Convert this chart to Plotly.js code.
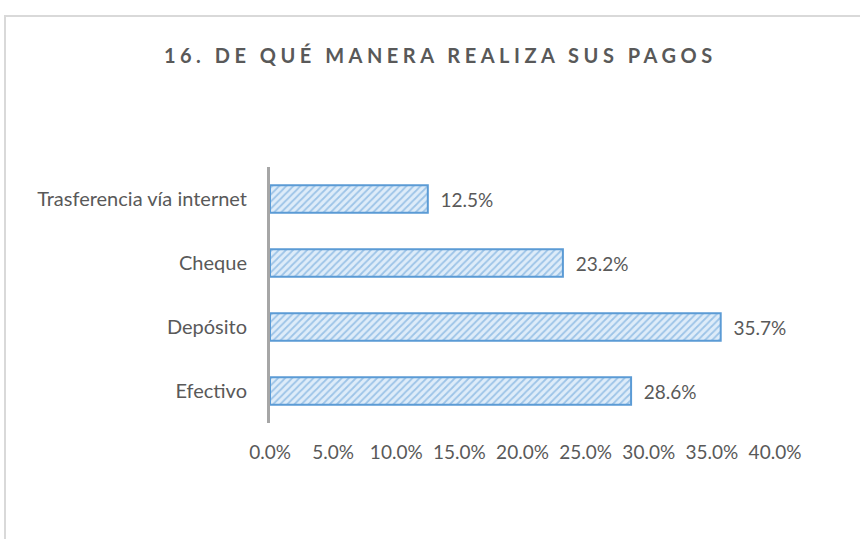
<!DOCTYPE html>
<html>
<head>
<meta charset="utf-8">
<script src="https://cdn.plot.ly/plotly-3.0.1.min.js"></script>
<style>
  html, body { margin: 0; padding: 0; background: #fff; }
  #chart { width: 860px; height: 539px; position: absolute; left: 0; top: 0; }
  #frame { position: absolute; left: 4px; top: 15px; width: 880px; height: 560px;
           border: 2px solid #d9d9d9; pointer-events: none; box-sizing: border-box; }
</style>
</head>
<body>
<div id="chart"></div>
<div id="frame"></div>
<script>
const categories = ['Efectivo', 'Depósito', 'Cheque', 'Trasferencia vía internet'];
const values = [28.6, 35.7, 23.2, 12.5];
const tickValues = [0, 5, 10, 15, 20, 25, 30, 35, 40];
const titleText = '16. DE QUÉ MANERA REALIZA SUS PAGOS';

const textColor = '#595959';
const fontFamily = 'Lato, "Open Sans", sans-serif';

const trace = {
  type: 'bar',
  orientation: 'h',
  y: categories,
  x: values,
  text: values.map(v => '\u00a0\u00a0' + v.toFixed(1) + '%'),
  textposition: 'outside',
  textfont: { family: fontFamily, size: 19, color: textColor },
  cliponaxis: false,
  hoverinfo: 'none',
  marker: {
    color: '#deecf9',
    line: { color: '#5b9bd5', width: 2 },
    pattern: { shape: '/', fgcolor: '#5b9bd5', bgcolor: '#deecf9', size: 5, solidity: 0.35, fillmode: 'overlay' }
  }
};

const layout = {
  width: 860,
  height: 539,
  paper_bgcolor: '#ffffff',
  plot_bgcolor: '#ffffff',
  margin: { l: 270, r: 85, t: 167, b: 116 },
  bargap: 0.57,
  showlegend: false,
  title: {
    text: titleText,
    font: { family: fontFamily, size: 20, color: textColor, weight: 'bold' },
    x: 0.512, xanchor: 'center', xref: 'container',
    y: 1 - 56 / 539, yanchor: 'middle', yref: 'container'
  },
  xaxis: {
    range: [0, 40],
    tickvals: tickValues,
    ticktext: tickValues.map(v => v.toFixed(1) + '%'),
    showgrid: false,
    zeroline: false,
    showline: false,
    ticks: '',
    ticklabelstandoff: 16,
    tickfont: { family: fontFamily, size: 19, color: textColor }
  },
  yaxis: {
    type: 'category',
    range: [-0.5, 3.5],
    showgrid: false,
    zeroline: false,
    showline: true,
    linecolor: '#a6a6a6',
    linewidth: 3,
    ticks: '',
    ticklabelstandoff: 16,
    tickfont: { family: fontFamily, size: 20, color: textColor }
  }
};

Plotly.newPlot('chart', [trace], layout, { staticPlot: true, displayModeBar: false }).then(() => {
  const t = document.querySelector('.gtitle');
  if (t) t.style.letterSpacing = '4.5px';
});
</script>
</body>
</html>
